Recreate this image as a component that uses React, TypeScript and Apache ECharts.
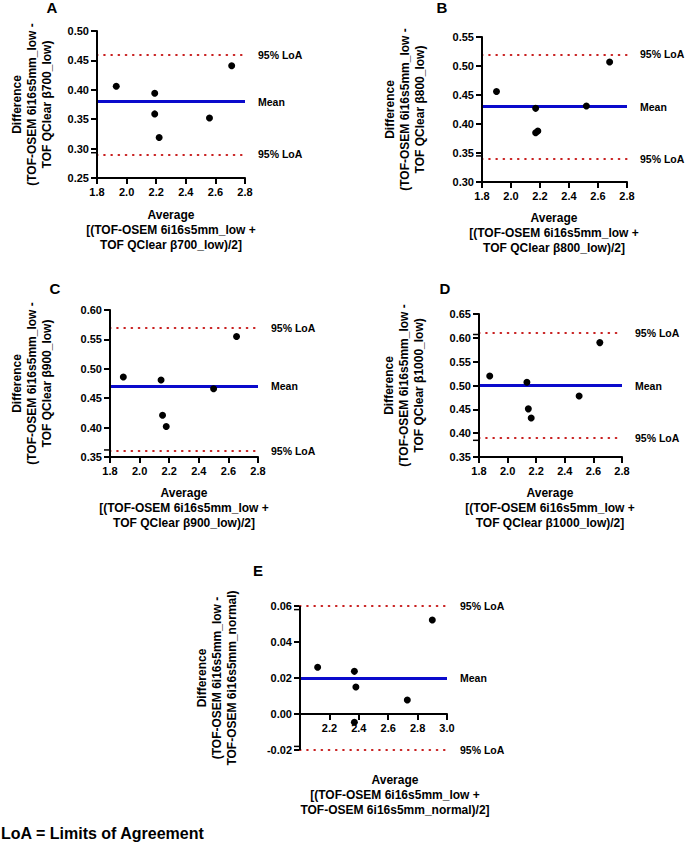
import React, { useEffect, useRef } from "react";
import * as echarts from "echarts";

// ---- Data ----
const avgA = [1.93, 2.19, 2.19, 2.22, 2.56, 2.71];
const diffA = [0.406, 0.394, 0.359, 0.319, 0.352, 0.441];
const limitsA = [0.379, 0.464, 0.293]; // mean, upper LoA, lower LoA

const avgB = [1.9, 2.17, 2.17, 2.185, 2.52, 2.68];
const diffB = [0.456, 0.427, 0.385, 0.388, 0.431, 0.507];
const limitsB = [0.433, 0.521, 0.345];

const avgC = [1.89, 2.145, 2.155, 2.18, 2.5, 2.655];
const diffC = [0.486, 0.481, 0.421, 0.402, 0.466, 0.555];
const limitsC = [0.468, 0.575, 0.362];

const avgD = [1.875, 2.135, 2.145, 2.165, 2.5, 2.645];
const diffD = [0.52, 0.507, 0.451, 0.432, 0.478, 0.59];
const limitsD = [0.496, 0.607, 0.385];

const avgE = [2.12, 2.37, 2.38, 2.37, 2.73, 2.9];
const diffE = [0.026, 0.0237, 0.015, -0.0046, 0.0078, 0.0522];
const limitsE = [0.02, 0.058, -0.018];

const panelLetters = ["A", "B", "C", "D", "E"];
const xRanges = [
  [1.8, 2.8, 0.2],
  [1.8, 2.8, 0.2],
  [1.8, 2.8, 0.2],
  [1.8, 2.8, 0.2],
  [2.0, 3.0, 0.2],
];
const yRanges = [
  [0.25, 0.5, 0.05],
  [0.3, 0.55, 0.05],
  [0.35, 0.6, 0.05],
  [0.35, 0.65, 0.05],
  [-0.02, 0.06, 0.02],
];
const yTitles = [
  ["Difference", "(TOF-OSEM 6i16s5mm_low -", "TOF QClear β700_low)"],
  ["Difference", "(TOF-OSEM 6i16s5mm_low -", "TOF QClear β800_low)"],
  ["Difference", "(TOF-OSEM 6i16s5mm_low -", "TOF QClear β900_low)"],
  ["Difference", "(TOF-OSEM 6i16s5mm_low -", "TOF QClear β1000_low)"],
  ["Difference", "(TOF-OSEM 6i16s5mm_low -", "TOF-OSEM 6i16s5mm_normal)"],
];
const xTitles = [
  ["Average", "[(TOF-OSEM 6i16s5mm_low +", "TOF QClear β700_low)/2]"],
  ["Average", "[(TOF-OSEM 6i16s5mm_low +", "TOF QClear β800_low)/2]"],
  ["Average", "[(TOF-OSEM 6i16s5mm_low +", "TOF QClear β900_low)/2]"],
  ["Average", "[(TOF-OSEM 6i16s5mm_low +", "TOF QClear β1000_low)/2]"],
  ["Average", "[(TOF-OSEM 6i16s5mm_low +", "TOF-OSEM 6i16s5mm_normal)/2]"],
];
const limitNames = ["Mean", "95% LoA", "95% LoA"];
const footnote = "LoA = Limits of Agreement";
// which LoA lines also get a short mark on the y axis: [upper, lower]
const loaAxisMarks = [
  [false, true],
  [false, true],
  [false, true],
  [true, true],
  [true, true],
];

const avgs = [avgA, avgB, avgC, avgD, avgE];
const diffs = [diffA, diffB, diffC, diffD, diffE];
const limits = [limitsA, limitsB, limitsC, limitsD, limitsE];

// ---- Layout ----
const grids = [
  { left: 97, top: 31, width: 148, height: 147 },
  { left: 482, top: 37, width: 145, height: 145 },
  { left: 110, top: 310, width: 148, height: 147 },
  { left: 479, top: 314, width: 143, height: 143 },
  { left: 300, top: 606, width: 147, height: 144 },
];
const letterPos = [
  [52, 7],
  [442, 7],
  [55, 288],
  [445, 288],
  [258, 570],
];
const yTitlePos = [
  [32, 104.5],
  [405, 109.5],
  [32, 383.5],
  [404, 385.5],
  [217, 678],
];
const xTitlePos = [
  [171, 230],
  [554, 233],
  [184, 508],
  [550, 508],
  [395, 795],
];

const FONT = "Arial";
const BLUE = "#0b0bcc";
const RED = "#c81e1e";
const LINE_GAP = 15;

function ticksOf(min: number, max: number, step: number) {
  const out: number[] = [];
  const n = Math.round((max - min) / step);
  for (let k = 0; k <= n; k++) out.push(+(min + k * step).toFixed(6));
  return out;
}

export default function App() {
  const ref = useRef<HTMLDivElement>(null);

  useEffect(() => {
    if (!ref.current) return;
    const chart = echarts.init(ref.current, undefined, { renderer: "svg" });

    const xAxis = xRanges.map((r, i) => ({
      type: "value",
      gridIndex: i,
      min: r[0],
      max: r[1],
      interval: r[2],
      axisLine: { show: true, onZero: i === 4, lineStyle: { color: "#000", width: 2 } },
      axisTick: { show: true, length: 6, lineStyle: { color: "#000", width: 2 } },
      splitLine: { show: false },
      axisLabel: {
        show: i !== 4,
        color: "#000",
        fontWeight: "bold",
        fontSize: 11,
        fontFamily: FONT,
        formatter: (v: number) => v.toFixed(1),
      },
    }));

    const yAxis = yRanges.map((r, i) => ({
      type: "value",
      gridIndex: i,
      min: r[0],
      max: r[1],
      interval: r[2],
      axisLine: { show: true, onZero: false, lineStyle: { color: "#000", width: 2 } },
      axisTick: { show: true, length: 6, lineStyle: { color: "#000", width: 2 } },
      splitLine: { show: false },
      axisLabel: {
        color: "#000",
        fontWeight: "bold",
        fontSize: 11,
        fontFamily: FONT,
        formatter: (v: number) => v.toFixed(2),
      },
    }));

    const series: any[] = [];
    avgs.forEach((xs, i) => {
      const lim = limits[i];
      const [x0, x1, xs_] = xRanges[i];
      const [y0, y1] = yRanges[i];
      const yCross = y0 <= 0 && y1 >= 0 ? 0 : y0;
      const xt = ticksOf(x0, x1, xs_);

      // reference lines (mean, LoA) plus the axis lines again as a backup
      series.push({
        type: "scatter",
        xAxisIndex: i,
        yAxisIndex: i,
        data: [],
        z: 1,
        silent: true,
        markLine: {
          silent: true,
          symbol: ["none", "none"],
          label: {
            show: true,
            position: "end",
            distance: 13,
            color: "#000",
            fontWeight: "bold",
            fontSize: 10.5,
            fontFamily: FONT,
          },
          data: [
            ...lim.map((v, k) => ({
              yAxis: v,
              label: { formatter: limitNames[k] },
              lineStyle:
                k === 0
                  ? { color: BLUE, width: 3, type: "solid" }
                  : { color: RED, width: 2.2, type: [0.5, 6.7], cap: "round" },
            })),
            { xAxis: x0, label: { show: false }, lineStyle: { color: "#000", width: 2, type: "solid" } },
            { yAxis: yCross, label: { show: false }, lineStyle: { color: "#000", width: 2, type: "solid" } },
          ],
        },
      });

      // panel-level texts, LoA axis marks and panel E's x labels at y = 0
      series.push({
        type: "custom",
        xAxisIndex: i,
        yAxisIndex: i,
        silent: true,
        clip: false,
        z: 3,
        data: [[x0, y0]],
        renderItem: (_p: any, api: any) => {
          const children: any[] = [];
          [lim[1], lim[2]].forEach((v, k) => {
            if (!loaAxisMarks[i][k]) return;
            const p = api.coord([x0, v]);
            children.push({
              type: "rect",
              shape: { x: p[0] - 6, y: p[1] - 0.75, width: 6, height: 1.5 },
              style: { fill: "#000" },
            });
          });
          if (i === 4) {
            xt.forEach((v, k) => {
              if (k === 0) return;
              const p = api.coord([v, 0]);
              children.push({
                type: "text",
                x: p[0],
                y: p[1] + 8,
                style: { text: v.toFixed(1), fill: "#000", font: `bold 11px ${FONT}`, align: "center", verticalAlign: "top" },
              });
            });
          }
          children.push({
            type: "text",
            x: letterPos[i][0],
            y: letterPos[i][1],
            style: { text: panelLetters[i], fill: "#000", font: `bold 15px ${FONT}`, align: "center", verticalAlign: "middle" },
          });
          yTitles[i].forEach((t, k) => {
            children.push({
              type: "text",
              x: yTitlePos[i][0] + (k - 1) * LINE_GAP,
              y: yTitlePos[i][1],
              rotation: Math.PI / 2,
              style: { text: t, fill: "#000", font: `bold 12px ${FONT}`, align: "center", verticalAlign: "middle" },
            });
          });
          xTitles[i].forEach((t, k) => {
            children.push({
              type: "text",
              x: xTitlePos[i][0],
              y: xTitlePos[i][1] + (k - 1) * LINE_GAP,
              style: { text: t, fill: "#000", font: `bold 12px ${FONT}`, align: "center", verticalAlign: "middle" },
            });
          });
          if (i === 0) {
            children.push({
              type: "text",
              x: 1,
              y: 833,
              style: { text: footnote, fill: "#000", font: `bold 16px ${FONT}`, align: "left", verticalAlign: "middle" },
            });
          }
          return { type: "group", children };
        },
      });

      // the data points
      series.push({
        type: "scatter",
        xAxisIndex: i,
        yAxisIndex: i,
        z: 5,
        symbol: "circle",
        symbolSize: 7,
        itemStyle: { color: "#000", opacity: 1 },
        data: xs.map((x, k) => [x, diffs[i][k]]),
      });
    });

    chart.setOption({
      animation: false,
      backgroundColor: "#fff",
      grid: grids,
      xAxis,
      yAxis,
      series,
    });

    return () => chart.dispose();
  }, []);

  return <div ref={ref} style={{ position: "absolute", left: 0, top: 0, width: 685, height: 845 }} />;
}
